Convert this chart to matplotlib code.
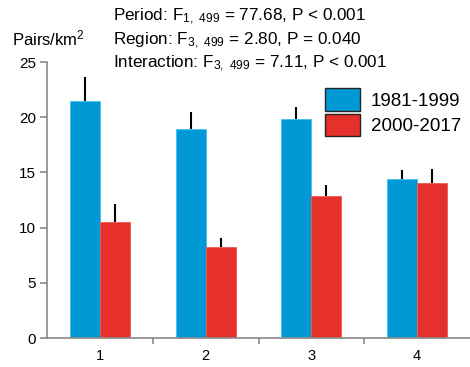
import numpy as np
import matplotlib.pyplot as plt
from matplotlib.patches import Patch

plt.rcParams['font.family'] = ['Liberation Sans', 'DejaVu Sans']
plt.rcParams['mathtext.default'] = 'regular'

# data
regions = ['1', '2', '3', '4']
periods = ['1981-1999', '2000-2017']
early = [21.5, 18.9, 19.8, 14.4]
early_err = [2.1, 1.6, 1.1, 0.8]
late = [10.5, 8.25, 12.9, 14.0]
late_err = [1.6, 0.85, 1.0, 1.3]
stats = [r"Period: F$_{1,\ 499}$ = 77.68, P < 0.001",
         r"Region: F$_{3,\ 499}$ = 2.80, P = 0.040",
         r"Interaction: F$_{3,\ 499}$ = 7.11, P < 0.001"]

blue = '#0099d5'
red = '#e6302b'
gray = '#8a8a8a'

fig = plt.figure(figsize=(4.7, 3.67), dpi=100)
ax = fig.add_axes([0.1, 0.079, 0.9, 0.752])

x = np.arange(1, len(regions) + 1)
w = 0.283
err_kw = dict(ecolor='black', elinewidth=1.5, capsize=0)
ax.bar(x - w / 2, early, w, color=blue, edgecolor='#40c0ee', linewidth=0.6,
       yerr=[np.zeros(len(early)), early_err], error_kw=err_kw)
ax.bar(x + w / 2, late, w, color=red, edgecolor='#f05a50', linewidth=0.6,
       yerr=[np.zeros(len(late)), late_err], error_kw=err_kw)

ax.set_xlim(0.5, 4.5)
ax.set_ylim(0, 25)
for s in ['top', 'right']:
    ax.spines[s].set_visible(False)
for s in ['left', 'bottom']:
    ax.spines[s].set_color(gray)
    ax.spines[s].set_linewidth(1.2)

ax.set_yticks([0, 5, 10, 15, 20, 25])
ax.tick_params(axis='y', direction='out', length=5, width=1.2, color=gray,
               labelsize=11, pad=3)
ax.set_xticks([1.5, 2.5, 3.5])
ax.set_xticklabels([])
ax.set_xticks(x, minor=True)
ax.set_xticklabels(regions, minor=True)
ax.tick_params(axis='x', which='major', direction='out', length=4, width=1.2, color=gray)
ax.tick_params(axis='x', which='minor', length=0, labelsize=10.5, pad=8)

handles = [Patch(facecolor=blue, edgecolor='#222222', linewidth=1),
           Patch(facecolor=red, edgecolor='#222222', linewidth=1)]
ax.legend(handles, periods, loc='upper right', bbox_to_anchor=(1.005, 0.945),
          frameon=False, fontsize=13.5, handlelength=1.9, handleheight=1.45,
          handletextpad=0.55, labelspacing=0.15, borderaxespad=0.2)

for i, s in enumerate(stats):
    fig.text(113 / 470, 1 - (21 + 23.5 * i) / 367, s, fontsize=12.3,
             ha='left', va='baseline')
fig.text(12 / 470, 1 - 45 / 367, r"Pairs/km$^{2}$", fontsize=12,
         ha='left', va='baseline')

fig.savefig('out.png', dpi=100)
